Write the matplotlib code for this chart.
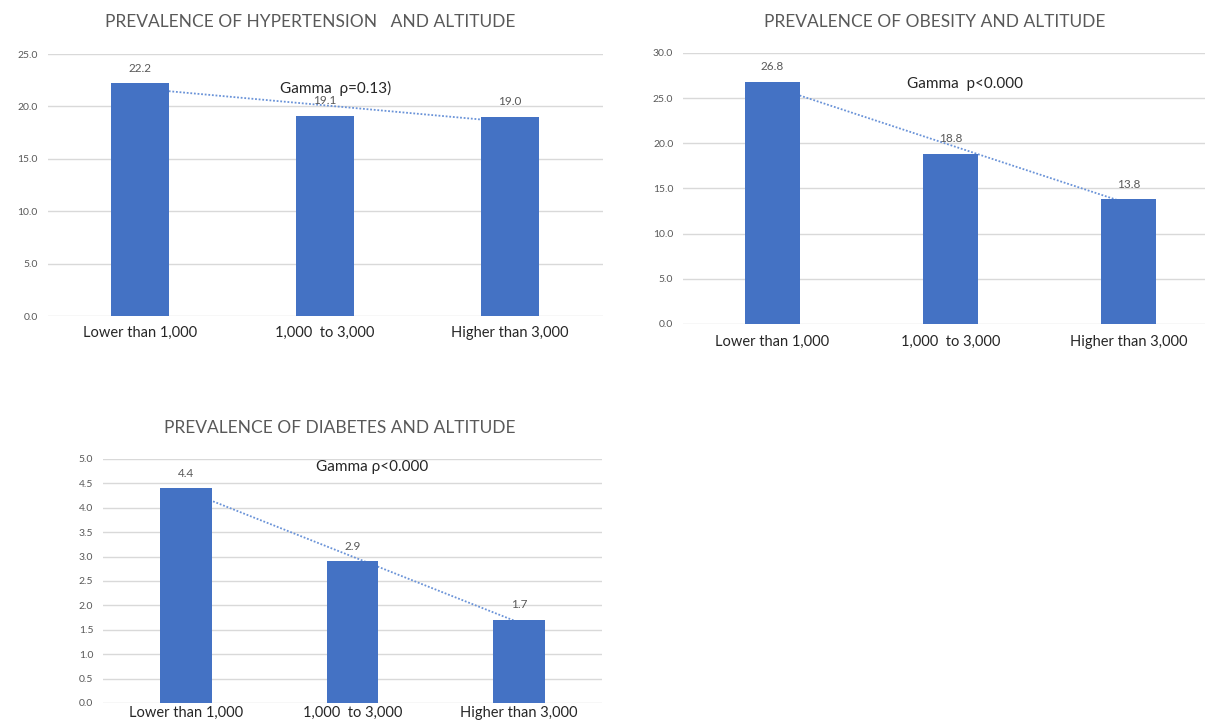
import numpy as np
import matplotlib.pyplot as plt

plt.rcParams['font.family'] = ['Lato', 'DejaVu Sans']

categories = ["Lower than 1,000", "1,000  to 3,000", "Higher than 3,000"]

hypertension = [22.2, 19.1, 19.0]
obesity = [26.8, 18.8, 13.8]
diabetes = [4.4, 2.9, 1.7]

titles = ["PREVALENCE OF HYPERTENSION   AND ALTITUDE",
          "PREVALENCE OF OBESITY AND ALTITUDE",
          "PREVALENCE OF DIABETES AND ALTITUDE"]
notes = ["Gamma  \u03c1=0.13)", "Gamma  p<0.000", "Gamma \u03c1<0.000"]

W, H = 1205, 720
BAR = "#4472C4"
TREND = "#6A93D8"
GRID = "#d9d9d9"
GREY = "#595959"


def px_axes(fig, left, right, top, bottom):
    # pixel box -> figure fraction
    return fig.add_axes([left / W, (H - bottom) / H, (right - left) / W, (bottom - top) / H])


def panel(ax, values, ymax, step, title, note, note_xy, title_xy, label_pad):
    x = np.arange(len(values))
    ax.set_xlim(-0.5, len(values) - 0.5)
    ax.set_ylim(0, ymax)
    ticks = np.arange(0, ymax + step / 2, step)
    ax.set_yticks(ticks)
    ax.set_yticklabels([f"{v:.1f}" for v in ticks], fontsize=7.5, color=GREY)
    ax.yaxis.grid(True, color=GRID, lw=1)
    ax.set_axisbelow(True)
    for s in ax.spines.values():
        s.set_visible(False)
    ax.tick_params(length=0)
    ax.tick_params(axis='y', pad=7)
    ax.tick_params(axis='x', pad=label_pad)
    ax.set_xticks(x)
    ax.set_xticklabels(categories, fontsize=10.5, color="#262626")

    # linear trendline, behind the bars
    k, b = np.polyfit(x, values, 1)
    ax.plot(x, k * x + b, ls=(0, (1, 1)), color=TREND, lw=1.3, zorder=1)
    ax.bar(x, values, width=0.31, color=BAR, zorder=2)
    for xi, v in zip(x, values):
        ax.annotate(f"{v:.1f}", (xi, v), xytext=(0, 11), textcoords="offset points",
                    ha="center", va="center", fontsize=8.5, color=GREY, zorder=3)
    ax.text(note_xy[0], note_xy[1], note, transform=ax.transAxes, ha="center",
            va="center", fontsize=11, color="#262626")
    ax.figure.text(title_xy[0] / W, 1 - title_xy[1] / H, title, ha="center",
                   va="center", fontsize=12.5, color=GREY)


fig = plt.figure(figsize=(W / 100, H / 100), dpi=100)

ax1 = px_axes(fig, 47.5, 602.5, 54, 316)
panel(ax1, hypertension, 25, 5, titles[0], notes[0], (0.52, 0.87), (310, 22), 7)

ax2 = px_axes(fig, 683, 1218, 53, 324)
panel(ax2, obesity, 30, 5, titles[1], notes[1], (0.527, 0.886), (935, 22), 8)

ax3 = px_axes(fig, 103, 602, 459, 703)
panel(ax3, diabetes, 5, 0.5, titles[2], notes[2], (0.54, 0.967), (340, 428), 2)

fig.savefig("out.png", dpi=100)
